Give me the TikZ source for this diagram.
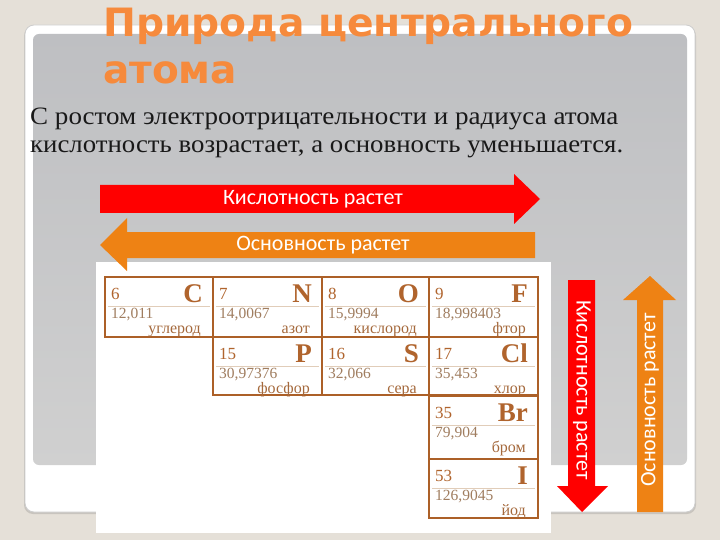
\documentclass[tikz,border=0pt]{standalone}
\usepackage{graphicx}
\usepackage{fontspec}
\setmainfont{Liberation Serif}
\newfontfamily\titlefont{DejaVu Sans}
\newfontfamily\calfont{Carlito}
\definecolor{bgbeige}{RGB}{229,224,216}
\definecolor{panelgreytop}{RGB}{190,191,194}
\definecolor{panelgreybot}{RGB}{208,208,208}
\definecolor{titleorange}{RGB}{246,138,60}
\definecolor{arrred}{RGB}{255,0,0}
\definecolor{arrorange}{RGB}{238,130,20}
\definecolor{cellbrown}{RGB}{172,96,40}
\definecolor{numbrown}{RGB}{176,100,45}
\definecolor{massbrown}{RGB}{160,125,95}
\definecolor{namebrown}{RGB}{165,105,60}
\definecolor{faintline}{RGB}{225,205,185}
\definecolor{bodyblack}{RGB}{25,25,25}
\definecolor{framegrey}{RGB}{205,205,205}
\definecolor{shadowgrey}{RGB}{200,196,190}
\tikzset{
  cellline/.style={draw=cellbrown, line width=1.2pt},
  faintst/.style={draw=faintline, line width=0.6pt},
  numst/.style={inner sep=0pt, text=numbrown, font=\fontsize{17}{17}\selectfont},
  symst/.style={inner sep=0pt, text=numbrown, font=\fontsize{27}{27}\selectfont\bfseries},
  massst/.style={inner sep=0pt, text=massbrown, font=\fontsize{15.5}{15.5}\selectfont},
  namest/.style={inner sep=0pt, text=namebrown, font=\fontsize{16}{16}\selectfont},
  arrtext/.style={inner sep=0pt, text=white, font=\calfont\fontsize{22}{22}\selectfont},
  bodytext/.style={inner sep=0pt, text=bodyblack, font=\fontsize{25}{25}\selectfont},
  titletext/.style={inner sep=0pt, text=titleorange, font=\titlefont\bfseries\fontsize{39}{39}\selectfont}
}
\newcommand\elcell[9]{%
  \draw[cellline] (#2,#3) rectangle ({#2+#4},{#3+#5});
  \draw[faintst] ({#2+3},{#3+29}) -- ({#2+#4-3},{#3+29});
  \node[numst, anchor=base west] (#1num) at ({#2+6},{#3+22}) {#6};
  \node[symst, anchor=base east] (#1sym) at ({#2+#4-10},{#3+25}) {#7};
  \node[massst, anchor=base west] (#1mass) at ({#2+6},{#3+41}) {#8};
  \node[namest, anchor=base east] (#1name) at ({#2+#4-12},{#3+56}) {#9};
}
\begin{document}
\begin{tikzpicture}[x=1pt,y=-1pt]
\useasboundingbox (0,0) rectangle (720,540);
\fill[bgbeige] (0,0) rectangle (720,540);
% frame
\fill[shadowgrey, rounded corners=9pt] (24,27) rectangle (696,514);
\draw[fill=white, draw=framegrey, line width=0.8pt, rounded corners=9pt] (25,25) rectangle (695,512);
\shade[top color=panelgreytop, bottom color=panelgreybot, rounded corners=6pt] (33,34) rectangle (687,465);
% title
\node[titletext, anchor=base west] (title1) at (103,37) {\resizebox{530pt}{\height}{Природа центрального}};
\node[titletext, anchor=base west] (title2) at (103,84) {атома};
% body
\node[bodytext, anchor=base west] (body1) at (30,125) {\resizebox{588pt}{\height}{С ростом электроотрицательности и радиуса атома}};
\node[bodytext, anchor=base west] (body2) at (30,153) {\resizebox{593pt}{\height}{кислотность возрастает, а основность уменьшается.}};
% table background
\fill[white] (96,262) rectangle (551,533);
% horizontal arrows
\fill[arrred] (100,185) -- (514,185) -- (514,174) -- (540,199) -- (514,224) -- (514,213) -- (100,213) -- cycle;
\node[arrtext] (acidh) at (313,199) {Кислотность растет};
\fill[arrorange] (100,245) -- (127,218) -- (127,232) -- (535,232) -- (535,258) -- (127,258) -- (127,271) -- cycle;
\node[arrtext] (baseh) at (323,245) {Основность растет};
% vertical arrows
\fill[arrred] (568,280) -- (595,280) -- (595,486) -- (608,486) -- (582,512) -- (557,486) -- (568,486) -- cycle;
\node[arrtext, rotate=-90] (acidv) at (582,390) {Кислотность растет};
\fill[arrorange] (637,512) -- (637,300) -- (623,300) -- (650,276) -- (676,300) -- (663,300) -- (663,512) -- cycle;
\node[arrtext, rotate=90] (basev) at (650,400) {Основность растет};
% cells
\elcell{C}{105}{277}{108}{60}{6}{C}{12,011}{углерод}
\elcell{N}{213}{277}{109}{60}{7}{N}{14,0067}{азот}
\elcell{O}{322}{277}{107}{60}{8}{O}{15,9994}{кислород}
\elcell{F}{429}{277}{109}{60}{9}{F}{18,998403}{фтор}
\elcell{P}{213}{337}{109}{58}{15}{P}{30,97376}{фосфор}
\elcell{S}{322}{337}{107}{58}{16}{S}{32,066}{сера}
\elcell{Cl}{429}{337}{109}{58}{17}{Cl}{35,453}{хлор}
\elcell{Br}{429}{396}{109}{63}{35}{Br}{79,904}{бром}
\elcell{I}{429}{459}{109}{59}{53}{I}{126,9045}{йод}
\end{tikzpicture}
\end{document}
